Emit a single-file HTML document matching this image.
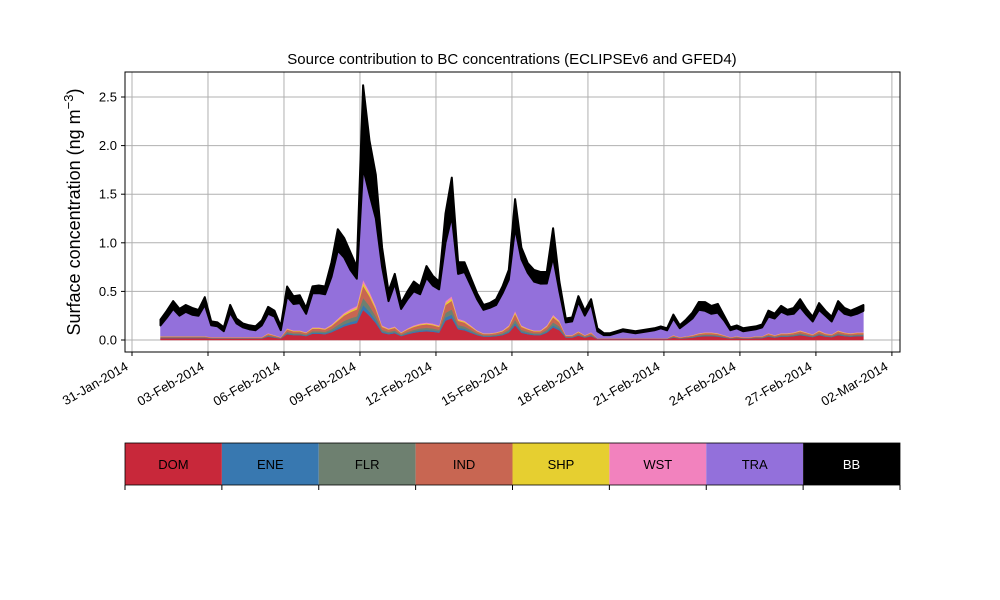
<!DOCTYPE html>
<html><head><meta charset="utf-8"><style>
body{margin:0;background:#fff;}
svg{display:block;font-family:"Liberation Sans","DejaVu Sans",sans-serif;}
</style></head><body>
<svg id="chart" width="1000" height="600" viewBox="0 0 1000 600">
<rect x="0" y="0" width="1000" height="600" fill="#fff"/>
<g id="grid"></g><g id="areas"></g><g id="axes"></g><g id="legend"></g>
</svg>
<script>
const dom=[.02,.02,.02,.02,.02,.02,.02,.02,.015,.015,.015,.015,.015,.015,.015,.015,.015,.035,.025,.015,.06,.05,.05,.04,.065,.065,.06,.08,.11,.14,.16,.175,.31,.25,.175,.075,.06,.07,.04,.06,.075,.085,.09,.085,.075,.2,.225,.11,.1,.075,.05,.035,.035,.04,.05,.075,.15,.075,.06,.05,.05,.075,.13,.1,.025,.025,.045,.025,.04,.01,.01,.01,.01,.01,.01,.01,.01,.01,.01,.01,.01,.025,.015,.02,.025,.035,.04,.04,.035,.025,.015,.02,.015,.015,.02,.02,.035,.025,.035,.035,.04,.05,.04,.03,.05,.035,.03,.05,.04,.035,.04,.04];
const ene=[.003,.003,.003,.003,.003,.003,.003,.003,.002,.002,.002,.002,.002,.002,.002,.002,.002,.006,.004,.002,.01,.008,.008,.006,.01,.01,.01,.013,.018,.022,.026,.028,.05,.04,.028,.012,.01,.011,.006,.01,.012,.014,.014,.014,.012,.032,.036,.018,.016,.012,.008,.006,.006,.006,.008,.012,.024,.012,.01,.008,.008,.012,.021,.016,.004,.004,.007,.004,.006,.002,.002,.002,.002,.002,.002,.002,.002,.002,.002,.002,.002,.004,.002,.003,.004,.006,.006,.006,.006,.004,.002,.003,.002,.002,.003,.003,.006,.004,.006,.006,.006,.008,.006,.005,.008,.006,.005,.008,.006,.006,.006,.006];
const flr=[.005,.005,.005,.005,.005,.005,.005,.005,.004,.004,.004,.004,.004,.004,.004,.004,.004,.008,.006,.004,.014,.012,.012,.01,.016,.016,.014,.019,.026,.034,.038,.042,.074,.06,.042,.018,.014,.017,.01,.014,.018,.02,.022,.02,.018,.048,.054,.026,.024,.018,.012,.008,.008,.01,.012,.018,.036,.018,.014,.012,.012,.018,.031,.024,.006,.006,.011,.006,.01,.002,.002,.002,.002,.002,.002,.002,.002,.002,.002,.002,.002,.006,.004,.005,.006,.008,.01,.01,.008,.006,.004,.005,.004,.004,.005,.005,.008,.006,.008,.008,.01,.012,.01,.007,.012,.008,.007,.012,.01,.008,.01,.01];
const ind=[.008,.008,.008,.008,.008,.008,.008,.008,.006,.006,.006,.006,.006,.006,.006,.006,.006,.014,.01,.006,.024,.02,.02,.016,.026,.026,.024,.032,.044,.056,.064,.07,.124,.1,.07,.03,.024,.028,.016,.024,.03,.034,.036,.034,.03,.08,.09,.044,.04,.03,.02,.014,.014,.016,.02,.03,.06,.03,.024,.02,.02,.03,.052,.04,.01,.01,.018,.01,.016,.004,.004,.004,.004,.004,.004,.004,.004,.004,.004,.004,.004,.01,.006,.008,.01,.014,.016,.016,.014,.01,.006,.008,.006,.006,.008,.008,.014,.01,.014,.014,.016,.02,.016,.012,.02,.014,.012,.02,.016,.014,.016,.016];
const shp=[.002,.002,.002,.002,.002,.002,.002,.002,.002,.002,.002,.002,.002,.002,.002,.002,.002,.004,.003,.002,.006,.005,.005,.004,.007,.007,.006,.008,.011,.014,.016,.018,.031,.025,.018,.008,.006,.007,.004,.006,.008,.009,.009,.009,.008,.02,.023,.011,.01,.008,.005,.004,.004,.004,.005,.008,.015,.008,.006,.005,.005,.008,.013,.01,.003,.003,.005,.003,.004,.001,.001,.001,.001,.001,.001,.001,.001,.001,.001,.001,.001,.003,.002,.002,.003,.004,.004,.004,.004,.003,.002,.002,.002,.002,.002,.002,.004,.003,.004,.004,.004,.005,.004,.003,.005,.004,.003,.005,.004,.004,.004,.004];
const wst=[.002,.002,.002,.002,.002,.002,.002,.002,.002,.002,.002,.002,.002,.002,.002,.002,.002,.004,.003,.002,.006,.005,.005,.004,.007,.007,.006,.008,.011,.014,.016,.018,.031,.025,.018,.008,.006,.007,.004,.006,.008,.009,.009,.009,.008,.02,.023,.011,.01,.008,.005,.004,.004,.004,.005,.008,.015,.008,.006,.005,.005,.008,.013,.01,.003,.003,.005,.003,.004,.001,.001,.001,.001,.001,.001,.001,.001,.001,.001,.001,.001,.003,.002,.002,.003,.004,.004,.004,.004,.003,.002,.002,.002,.002,.002,.002,.004,.003,.004,.004,.004,.005,.004,.003,.005,.004,.003,.005,.004,.004,.004,.004];
const tra=[.11,.19,.28,.21,.25,.22,.21,.32,.12,.11,.06,.25,.14,.10,.08,.07,.12,.20,.19,.07,.33,.27,.28,.19,.35,.35,.35,.49,.70,.57,.40,.28,1.15,1.00,.90,.60,.28,.44,.24,.30,.35,.30,.46,.39,.37,.60,.82,.46,.50,.41,.32,.24,.26,.28,.38,.47,.85,.68,.57,.50,.48,.43,.59,.30,.13,.14,.30,.20,.29,.07,.03,.03,.05,.07,.06,.05,.06,.07,.08,.10,.08,.17,.09,.13,.17,.24,.22,.19,.21,.15,.07,.08,.06,.07,.07,.09,.17,.17,.22,.19,.19,.24,.18,.13,.21,.18,.13,.23,.19,.18,.19,.22];
const bb=[.06,.07,.08,.07,.07,.07,.06,.08,.04,.04,.04,.08,.05,.04,.04,.04,.05,.07,.06,.04,.10,.08,.08,.06,.07,.08,.08,.15,.22,.20,.18,.12,.85,.55,.45,.20,.10,.10,.06,.08,.10,.08,.12,.10,.08,.30,.40,.12,.10,.08,.06,.05,.05,.06,.07,.10,.30,.12,.10,.12,.12,.12,.30,.10,.04,.04,.06,.05,.05,.03,.02,.02,.02,.02,.02,.02,.02,.02,.02,.02,.02,.04,.03,.04,.06,.08,.09,.08,.09,.05,.03,.03,.03,.03,.03,.03,.06,.05,.06,.05,.06,.08,.06,.05,.07,.05,.05,.07,.06,.05,.06,.06];
const seriesNames=["DOM","ENE","FLR","IND","SHP","WST","TRA","BB"];
const seriesColors=["#c8283a","#3878b0","#6e8070","#c86652","#e6cf30","#f282be","#9370db","#000000"];
const yTicks=[0,0.5,1.0,1.5,2.0,2.5];
const xTickLabels=["31-Jan-2014","03-Feb-2014","06-Feb-2014","09-Feb-2014","12-Feb-2014","15-Feb-2014","18-Feb-2014","21-Feb-2014","24-Feb-2014","27-Feb-2014","02-Mar-2014"];
const xTickDays=[0,3,6,9,12,15,18,21,24,27,30];
const startDay=1.125, stepDay=0.25;

const NS="http://www.w3.org/2000/svg";
const L=125,R=900,T=72,B=352;
function xScale(d){return 132+d*25.33;}
function yScale(v){return 340-v*97.2;}
function mk(tag,attrs,parent){const e=document.createElementNS(NS,tag);for(const k in attrs)e.setAttribute(k,attrs[k]);parent.appendChild(e);return e;}
const grid=document.getElementById('grid'),areas=document.getElementById('areas'),axes=document.getElementById('axes'),legend=document.getElementById('legend');

yTicks.forEach(v=>{
  const y=yScale(v);
  const g=mk('line',{x1:L,x2:R,y1:y,y2:y,stroke:'#b0b0b0','stroke-width':1},grid);
  
  
  mk('line',{x1:L-4,x2:L,y1:y,y2:y,stroke:'#000'},axes);
  const t=mk('text',{x:L-8,y:y+4.5,'text-anchor':'end','font-size':13},axes);
  t.textContent=v.toFixed(1);
  
  
});
xTickDays.forEach((d,i)=>{
  const x=xScale(d);
  const g=mk('line',{x1:x,x2:x,y1:T,y2:B,stroke:'#b0b0b0','stroke-width':1},grid);
  
  
  mk('line',{x1:x,x2:x,y1:B,y2:B+4,stroke:'#000'},axes);
  const ax=x-3, ay=B+17;
  const t=mk('text',{x:ax,y:ay,'text-anchor':'end','font-size':13,transform:`rotate(-30 ${ax} ${ay})`},axes);
  t.textContent=xTickLabels[i];
  
  
});

const all=[dom,ene,flr,ind,shp,wst,tra,bb];
const n=dom.length;
let base=new Array(n).fill(0);
all.forEach((s,k)=>{
  const top=base.map((b,i)=>b+s[i]);
  let pts=[];
  for(let i=0;i<n;i++)pts.push(xScale(startDay+i*stepDay).toFixed(1)+','+yScale(top[i]).toFixed(1));
  for(let i=n-1;i>=0;i--)pts.push(xScale(startDay+i*stepDay).toFixed(1)+','+yScale(base[i]).toFixed(1));
  const p=mk('polygon',{points:pts.join(' '),fill:seriesColors[k],stroke:seriesColors[k],'stroke-width':k===7?2:0.5,'stroke-linejoin':'round'},areas);
  
  
  base=top;
});

const frame=mk('rect',{x:L,y:T,width:R-L,height:B-T,fill:'none',stroke:'#000','stroke-width':1},axes);



const title=mk('text',{x:512,y:64,'text-anchor':'middle','font-size':15},axes);
title.textContent='Source contribution to BC concentrations (ECLIPSEv6 and GFED4)';



const yt=mk('text',{x:0,y:0,'text-anchor':'middle','font-size':18,transform:'translate(80 212) rotate(-90)'},axes);
yt.innerHTML='Surface concentration (ng m<tspan dy="-7" font-size="13">−3</tspan><tspan dy="7">)</tspan>';



const cw=(R-L)/8;
seriesNames.forEach((nm,k)=>{
  const x=L+k*cw;
  const r=mk('rect',{x:x,y:443,width:cw,height:42,fill:seriesColors[k]},legend);
  
  
  const t=mk('text',{x:x+cw/2,y:469,'text-anchor':'middle','font-size':13,fill:k===7?'#fff':'#000'},legend);
  t.textContent=nm;
  
  
});
for(let k=0;k<=8;k++){const x=L+k*cw;mk('line',{x1:x,x2:x,y1:485,y2:490,stroke:'#000'},legend);}
const lf=mk('rect',{x:L,y:443,width:R-L,height:42,fill:'none',stroke:'#000','stroke-width':0.8},legend);


</script>
</body></html>
